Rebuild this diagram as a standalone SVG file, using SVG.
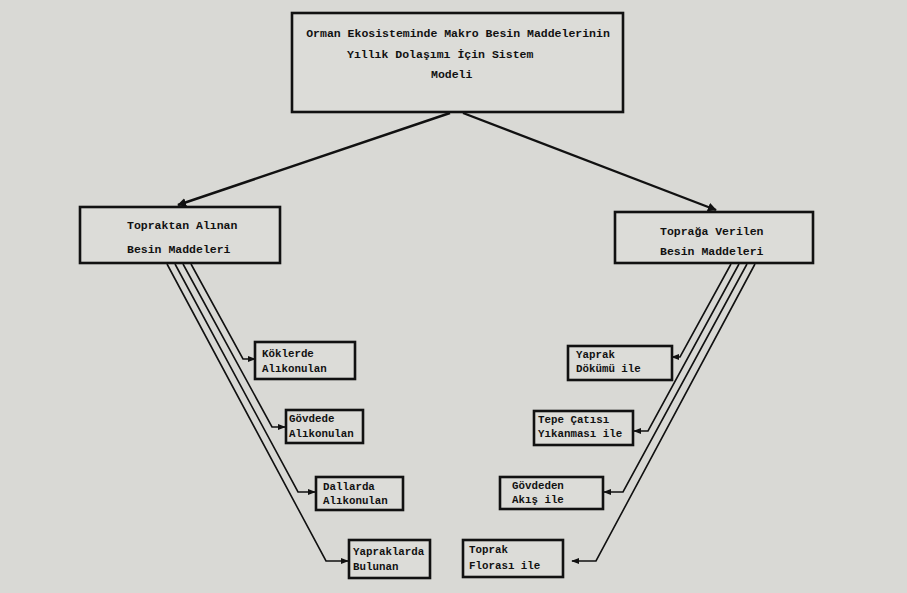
<svg xmlns="http://www.w3.org/2000/svg" width="907" height="593" viewBox="0 0 907 593">
<defs>
<marker id="ah" viewBox="0 0 10 10" refX="9" refY="5" markerWidth="9" markerHeight="9" markerUnits="userSpaceOnUse" orient="auto">
<path d="M0,0 L10,5 L0,10 Z" fill="#111"/>
</marker>
<marker id="ahs" viewBox="0 0 10 10" refX="9" refY="5" markerWidth="8" markerHeight="8" markerUnits="userSpaceOnUse" orient="auto">
<path d="M0,1 L10,5 L0,9 Z" fill="#111"/>
</marker>
</defs>
<style>
.box{fill:#dcdcd8;stroke:#111;stroke-width:2.6}
.t{font-family:"Liberation Mono","DejaVu Sans Mono",monospace;font-weight:bold;font-size:11.5px;fill:#111}
.s{font-size:10.8px}
.c{text-anchor:middle}
.ln{fill:none;stroke:#111;stroke-width:1.6}
.main{fill:none;stroke:#111;stroke-width:2.4}
</style>
<rect x="0" y="0" width="907" height="593" fill="#d9d9d5"/>
<g id="connectors">
<line class="main" x1="450" y1="113" x2="178" y2="205" marker-end="url(#ah)"/>
<line class="main" x1="463" y1="113" x2="716" y2="210" marker-end="url(#ah)"/>
<polyline class="ln" points="191,264 243,359 255,359" marker-end="url(#ahs)"/>
<polyline class="ln" points="183,264 272,427 285,427" marker-end="url(#ahs)"/>
<polyline class="ln" points="175,264 298,492 315,492" marker-end="url(#ahs)"/>
<polyline class="ln" points="167,264 326,561 348,561" marker-end="url(#ahs)"/>
<polyline class="ln" points="731,264 680,357 672,357" marker-end="url(#ahs)"/>
<polyline class="ln" points="739,264 648,431 634,431" marker-end="url(#ahs)"/>
<polyline class="ln" points="747,264 623,492 604,492" marker-end="url(#ahs)"/>
<polyline class="ln" points="755,264 596,561 572,561" marker-end="url(#ahs)"/>
</g>
<g id="top">
<rect class="box" x="292" y="13" width="331" height="99"/>
<text class="t c" x="458" y="37">Orman Ekosisteminde Makro Besin Maddelerinin</text>
<text class="t" x="347" y="58">Yıllık Dolaşımı İçin Sistem</text>
<text class="t" x="431" y="78">Modeli</text>
</g>
<g id="left">
<rect class="box" x="80" y="207" width="200" height="56"/>
<text class="t" x="127" y="229">Topraktan Alınan</text>
<text class="t" x="127" y="253">Besin  Maddeleri</text>
</g>
<g id="right">
<rect class="box" x="615" y="212" width="198" height="51"/>
<text class="t" x="660" y="235">Toprağa Verilen</text>
<text class="t" x="660" y="255">Besin Maddeleri</text>
</g>
<g id="kok">
<rect class="box" x="255" y="342" width="100" height="37"/>
<text class="t s" x="262" y="357">Köklerde</text>
<text class="t s" x="262" y="372">Alıkonulan</text>
</g>
<g id="govde">
<rect class="box" x="286" y="410" width="77" height="33"/>
<text class="t s" x="289" y="422">Gövdede</text>
<text class="t s" x="289" y="437">Alıkonulan</text>
</g>
<g id="dal">
<rect class="box" x="316" y="477" width="87" height="33"/>
<text class="t s" x="323" y="490">Dallarda</text>
<text class="t s" x="323" y="504">Alıkonulan</text>
</g>
<g id="yaprak">
<rect class="box" x="349" y="540" width="81" height="38"/>
<text class="t s" x="353" y="555">Yapraklarda</text>
<text class="t s" x="353" y="570">Bulunan</text>
</g>
<g id="dokum">
<rect class="box" x="568" y="346" width="104" height="34"/>
<text class="t s" x="576" y="358">Yaprak</text>
<text class="t s" x="576" y="372">Dökümü ile</text>
</g>
<g id="tepe">
<rect class="box" x="534" y="411" width="99" height="34"/>
<text class="t s" x="538" y="423">Tepe Çatısı</text>
<text class="t s" x="538" y="437">Yıkanması ile</text>
</g>
<g id="govdeden">
<rect class="box" x="500" y="477" width="103" height="32"/>
<text class="t s" x="512" y="489">Gövdeden</text>
<text class="t s" x="512" y="503">Akış ile</text>
</g>
<g id="flora">
<rect class="box" x="463" y="540" width="100" height="37"/>
<text class="t s" x="469" y="553">Toprak</text>
<text class="t s" x="469" y="569">Florası ile</text>
</g>
</svg>
